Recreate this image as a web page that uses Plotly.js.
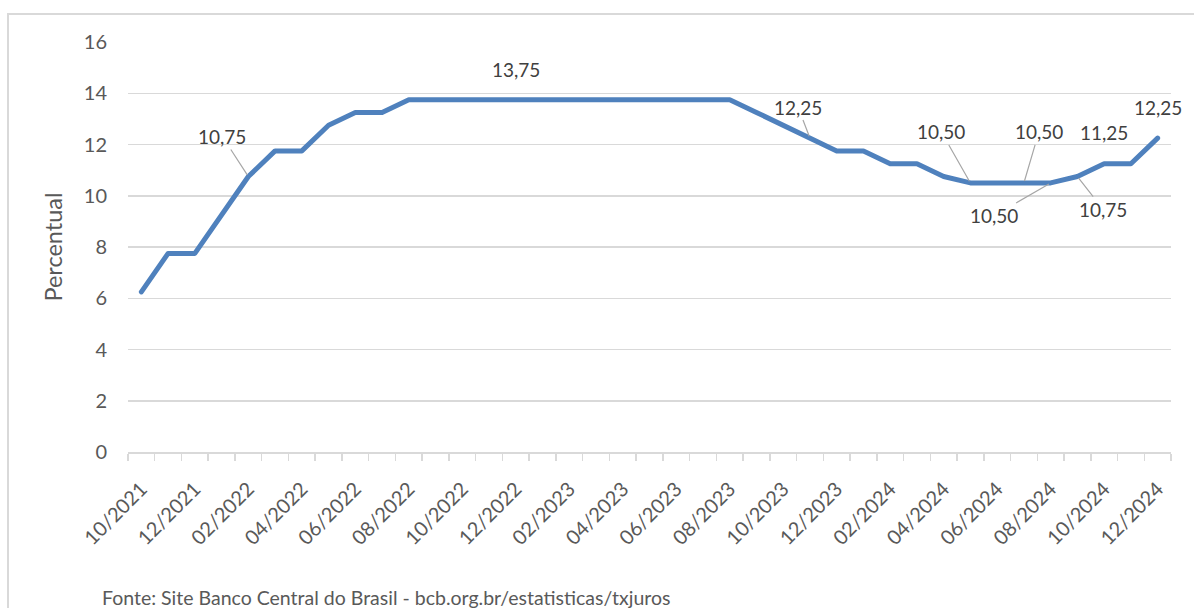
<!DOCTYPE html>
<html>
<head>
<meta charset="utf-8">
<script src="https://cdn.plot.ly/plotly-3.0.1.min.js"></script>
<style>
  html, body { margin: 0; padding: 0; background: #fff; }
  #wrap { position: relative; width: 1194px; height: 608px; }
  #chart { width: 1194px; height: 608px; }
  #frame { position: absolute; left: 7px; top: 13px; width: 1200px; height: 610px;
           border-left: 2px solid #d9d9d9; border-top: 2px solid #d9d9d9; pointer-events: none; }
  .scatterlayer .js-line { stroke-linejoin: round !important; stroke-linecap: round !important; }
</style>
</head>
<body>
<div id="wrap">
  <div id="chart"></div>
  <div id="frame"></div>
</div>
<script>
// Monthly Selic target rate (%), 10/2021 – 12/2024
const months = [
  "10/2021","11/2021","12/2021",
  "01/2022","02/2022","03/2022","04/2022","05/2022","06/2022","07/2022","08/2022","09/2022","10/2022","11/2022","12/2022",
  "01/2023","02/2023","03/2023","04/2023","05/2023","06/2023","07/2023","08/2023","09/2023","10/2023","11/2023","12/2023",
  "01/2024","02/2024","03/2024","04/2024","05/2024","06/2024","07/2024","08/2024","09/2024","10/2024","11/2024","12/2024"
];
const selic = [
  6.25, 7.75, 7.75,
  9.25, 10.75, 11.75, 11.75, 12.75, 13.25, 13.25, 13.75, 13.75, 13.75, 13.75, 13.75,
  13.75, 13.75, 13.75, 13.75, 13.75, 13.75, 13.75, 13.75, 13.25, 12.75, 12.25, 11.75,
  11.75, 11.25, 11.25, 10.75, 10.50, 10.50, 10.50, 10.50, 10.75, 11.25, 11.25, 12.25
];
// Months whose value is written on the chart
const labelledMonths = ["02/2022","12/2022","11/2023","05/2024","07/2024","08/2024","09/2024","10/2024","12/2024"];
// Tick labels shown every two months
const tickLabels = months.map((m, i) => (i % 2 === 0 ? m : ""));

const yTicks = [0, 2, 4, 6, 8, 10, 12, 14, 16];

// Label placement (pixel offsets from the point), style only
const labelStyle = {
  "02/2022": {ax: -26, ay: -40, arrow: true},
  "12/2022": {ax: 0, ay: -30, arrow: false},
  "11/2023": {ax: -12, ay: -31, arrow: true},
  "05/2024": {ax: -29, ay: -51, arrow: true},
  "07/2024": {ax: 15, ay: -51, arrow: true},
  "08/2024": {ax: -57, ay: 33, arrow: true},
  "09/2024": {ax: 26, ay: 33, arrow: true},
  "10/2024": {ax: 0, ay: -31, arrow: false},
  "12/2024": {ax: 0, ay: -31, arrow: false}
};

const FONT = "Lato, 'Open Sans', sans-serif";
const fmt = v => v.toFixed(2).replace(".", ",");

const annotations = labelledMonths.map(m => {
  const i = months.indexOf(m);
  const s = labelStyle[m];
  const a = {
    x: m, y: selic[i], xref: "x", yref: "y",
    text: fmt(selic[i]),
    font: {family: FONT, size: 19, color: "#404040"}
  };
  if (s.arrow) {
    Object.assign(a, {showarrow: true, ax: s.ax, ay: s.ay, arrowhead: 0,
      arrowwidth: 1.2, arrowcolor: "#a6a6a6", standoff: 2});
  } else {
    Object.assign(a, {showarrow: false, xshift: s.ax, yshift: -s.ay});
  }
  return a;
});

annotations.push({
  xref: "paper", yref: "paper", x: -0.0268, y: -0.355,
  xanchor: "left", yanchor: "middle", showarrow: false,
  text: "Fonte: Site Banco Central do Brasil - bcb.org.br/estatisticas/txjuros",
  font: {family: FONT, size: 19.5, color: "#595959"}
});

const trace = {
  type: "scatter", mode: "lines",
  x: months, y: selic,
  line: {color: "#4f81bd", width: 5},
  hoverinfo: "x+y"
};

const layout = {
  width: 1194, height: 608,
  margin: {l: 128, r: 23, t: 42, b: 156},
  paper_bgcolor: "#ffffff", plot_bgcolor: "#ffffff",
  showlegend: false,
  font: {family: FONT, color: "#595959"},
  xaxis: {
    type: "category",
    categoryorder: "array", categoryarray: months,
    range: [-0.5, months.length - 0.5],
    tickmode: "array", tickvals: months, ticktext: tickLabels,
    tickson: "boundaries",
    ticks: "outside", ticklen: 7, tickwidth: 1.5, tickcolor: "#d9d9d9",
    tickangle: -45,
    tickfont: {family: FONT, size: 20, color: "#595959"},
    ticklabelstandoff: 16,
    showgrid: false, zeroline: false,
    showline: true, linecolor: "#d9d9d9", linewidth: 1.5
  },
  yaxis: {
    range: [0, 16],
    tickmode: "array", tickvals: yTicks,
    ticks: "", ticklabelstandoff: 20,
    tickfont: {family: FONT, size: 20, color: "#595959"},
    showgrid: true, gridcolor: "#d9d9d9", gridwidth: 1.5,
    zeroline: false, showline: false,
    title: {text: "Percentual", font: {family: FONT, size: 23.5, color: "#595959"}, standoff: 14}
  },
  annotations: annotations
};

Plotly.newPlot("chart", [trace], layout, {displayModeBar: false, staticPlot: true});
</script>
</body>
</html>
